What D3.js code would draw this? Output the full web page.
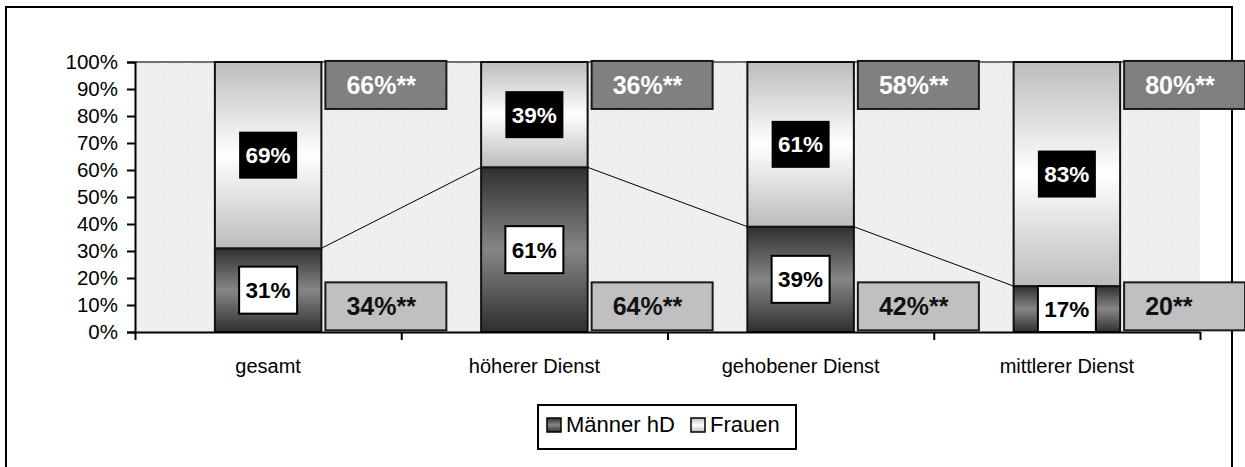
<!DOCTYPE html>
<html>
<head>
<meta charset="utf-8">
<script src="https://cdn.jsdelivr.net/npm/d3@7"></script>
<style>
  body { margin: 0; background: #fff; }
  svg { font-family: Arial, "Liberation Sans", sans-serif; }
</style>
</head>
<body>
<svg id="chart" width="1245" height="467"></svg>
<script>
// chart data
const categories = ["gesamt", "höherer Dienst", "gehobener Dienst", "mittlerer Dienst"];
const maenner = [31, 61, 39, 17];
const frauen = [69, 39, 61, 83];
const topNotes = ["66%**", "36%**", "58%**", "80%**"];
const bottomNotes = ["34%**", "64%**", "42%**", "20**"];
const yTicks = [0, 10, 20, 30, 40, 50, 60, 70, 80, 90, 100];
const seriesNames = ["Männer hD", "Frauen"];

const svg = d3.select("#chart");
const plot = { left: 135, right: 1200, top: 62, bottom: 332 };

// gradients + background texture
const defs = svg.append("defs");
function vGrad(id, edge, mid) {
  const g = defs.append("linearGradient").attr("id", id)
    .attr("x1", 0).attr("y1", 0).attr("x2", 0).attr("y2", 1);
  g.append("stop").attr("offset", "0%").attr("stop-color", edge);
  g.append("stop").attr("offset", "50%").attr("stop-color", mid);
  g.append("stop").attr("offset", "100%").attr("stop-color", edge);
}
vGrad("gM", "#2f2f2f", "#868686");
vGrad("gF", "#bcbcbc", "#ffffff");

const pat = defs.append("pattern").attr("id", "bg")
  .attr("width", 3).attr("height", 3).attr("patternUnits", "userSpaceOnUse");
pat.append("rect").attr("width", 3).attr("height", 3).attr("fill", "#f1f1f1");
pat.append("rect").attr("x", 0).attr("y", 0).attr("width", 1).attr("height", 1).attr("fill", "#e6e6e6");
pat.append("rect").attr("x", 1).attr("y", 1).attr("width", 1).attr("height", 1).attr("fill", "#e9e9e9");

// outer frame
svg.append("rect")
  .attr("x", 6).attr("y", 7).attr("width", 1226).attr("height", 470)
  .attr("fill", "#fff").attr("stroke", "#000").attr("stroke-width", 2);

// scales
const x = d3.scaleBand().domain(categories)
  .range([plot.left, plot.right]).paddingInner(0.6).paddingOuter(0.3);
const xEdge = d3.scaleLinear().domain([0, categories.length])
  .range([plot.left, plot.right]);
const y = d3.scaleLinear().domain([0, 100]).range([plot.bottom, plot.top]);
const bw = x.bandwidth();

// plot area (top border only, like the original)
svg.append("rect")
  .attr("x", plot.left).attr("y", plot.top)
  .attr("width", plot.right - plot.left).attr("height", plot.bottom - plot.top)
  .attr("fill", "url(#bg)");
svg.append("line")
  .attr("x1", plot.left).attr("x2", plot.right)
  .attr("y1", plot.top).attr("y2", plot.top)
  .attr("stroke", "#444").attr("stroke-width", 1.5);

// series lines between the Männer segments
const links = d3.range(categories.length - 1).map(i => [
  [x(categories[i]) + bw, y(maenner[i])],
  [x(categories[i + 1]), y(maenner[i + 1])]
]);
svg.append("g").selectAll("path").data(links).join("path")
  .attr("d", d => d3.line()(d))
  .attr("stroke", "#000").attr("stroke-width", 1).attr("fill", "none");

// stacked bars
const bars = svg.append("g").selectAll("g").data(categories).join("g");
bars.append("rect")
  .attr("x", d => x(d)).attr("width", bw)
  .attr("y", (d, i) => y(maenner[i]))
  .attr("height", (d, i) => y(0) - y(maenner[i]))
  .attr("fill", "url(#gM)").attr("stroke", "#111").attr("stroke-width", 2);
bars.append("rect")
  .attr("x", d => x(d)).attr("width", bw)
  .attr("y", (d, i) => y(maenner[i] + frauen[i]))
  .attr("height", (d, i) => y(maenner[i]) - y(maenner[i] + frauen[i]))
  .attr("fill", "url(#gF)").attr("stroke", "#111").attr("stroke-width", 2);

// axes
const yAxis = svg.append("g")
  .attr("transform", `translate(${plot.left},0)`)
  .call(d3.axisLeft(y).tickValues(yTicks).tickFormat(d => d + "%")
    .tickSize(8).tickPadding(9));
yAxis.select(".domain").attr("stroke-width", 2);
yAxis.selectAll(".tick line").attr("stroke-width", 2);
yAxis.selectAll("text").attr("font-size", 20.5).attr("fill", "#000")
  .attr("font-family", "Arial, 'Liberation Sans', sans-serif");

const xTicks = svg.append("g")
  .attr("transform", `translate(0,${plot.bottom})`)
  .call(d3.axisBottom(xEdge).ticks(categories.length).tickFormat("")
    .tickSizeInner(8).tickSizeOuter(0));
xTicks.select(".domain").attr("stroke-width", 2);
xTicks.selectAll(".tick line").attr("stroke-width", 2);

const xLabels = svg.append("g")
  .attr("transform", `translate(0,${plot.bottom})`)
  .call(d3.axisBottom(x).tickSize(0).tickPadding(27));
xLabels.select(".domain").remove();
xLabels.selectAll("text").attr("font-size", 20).attr("fill", "#000")
  .attr("font-family", "Arial, 'Liberation Sans', sans-serif");

// value labels inside the bars
function innerLabel(g, cx, cy, h, txt, dark) {
  g.append("rect")
    .attr("x", cx - 29).attr("y", cy - h / 2).attr("width", 58).attr("height", h)
    .attr("fill", dark ? "#000" : "#fff")
    .attr("stroke", "#000").attr("stroke-width", dark ? 0 : 2);
  g.append("text")
    .attr("x", cx).attr("y", cy).attr("dy", "0.36em")
    .attr("text-anchor", "middle").attr("font-weight", "bold").attr("font-size", 22.5)
    .attr("fill", dark ? "#fff" : "#000").text(txt);
}
const lab = svg.append("g");
categories.forEach((c, i) => {
  const cx = x(c) + bw / 2;
  const mh = y(0) - y(maenner[i]);
  innerLabel(lab, cx, y(maenner[i] / 2), Math.min(47, mh), maenner[i] + "%", false);
  innerLabel(lab, cx, y(maenner[i] + frauen[i] / 2), 47, frauen[i] + "%", true);
});

// side notes
const notes = svg.append("g");
function note(bx, cy, txt, fill, color) {
  notes.append("rect")
    .attr("x", bx).attr("y", cy - 24).attr("width", 121).attr("height", 48)
    .attr("fill", fill).attr("stroke", "#1a1a1a").attr("stroke-width", 2);
  notes.append("text")
    .attr("x", bx + 21).attr("y", cy).attr("dy", "0.36em")
    .attr("font-weight", "bold").attr("font-size", 25)
    .attr("fill", color).text(txt);
}
categories.forEach((c, i) => {
  const bx = x(c) + bw + 4;
  note(bx, y(91.5), topNotes[i], "#808080", "#fff");
  note(bx, y(9.5), bottomNotes[i], "#c0c0c0", "#111");
});

// legend
const leg = svg.append("g");
leg.append("rect")
  .attr("x", 538).attr("y", 405).attr("width", 258).attr("height", 44)
  .attr("fill", "#fff").attr("stroke", "#000").attr("stroke-width", 2);
const legItems = [
  { name: seriesNames[0], fill: "url(#gM)", x: 547 },
  { name: seriesNames[1], fill: "url(#gF)", x: 691 }
];
legItems.forEach(it => {
  leg.append("rect")
    .attr("x", it.x).attr("y", 418).attr("width", 14).attr("height", 14)
    .attr("fill", it.fill).attr("stroke", "#000").attr("stroke-width", 1.5);
  leg.append("text")
    .attr("x", it.x + 19).attr("y", 432)
    .attr("font-size", 22).attr("fill", "#000").text(it.name);
});
</script>
</body>
</html>
